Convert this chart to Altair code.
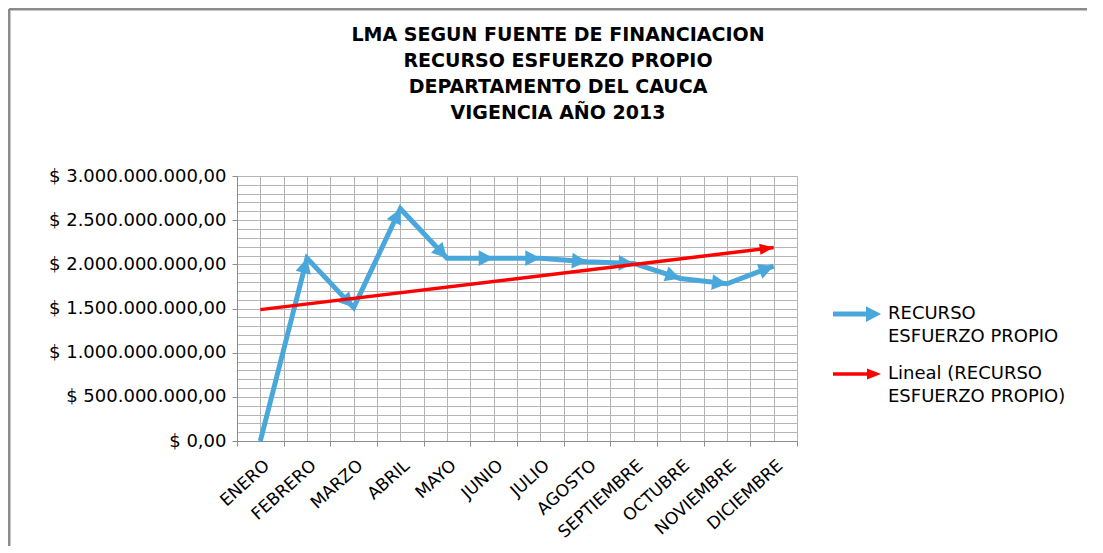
import altair as alt
import pandas as pd

# ---------------- data ----------------
months = ["ENERO", "FEBRERO", "MARZO", "ABRIL", "MAYO", "JUNIO", "JULIO",
          "AGOSTO", "SEPTIEMBRE", "OCTUBRE", "NOVIEMBRE", "DICIEMBRE"]
month_index = [1, 2, 3, 4, 5, 6, 7, 8, 9, 10, 11, 12]
values = [0, 2.07e9, 1.51e9, 2.63e9, 2.07e9, 2.07e9, 2.07e9,
          2.03e9, 2.01e9, 1.84e9, 1.78e9, 1.98e9]

title_lines = ["LMA SEGUN FUENTE DE FINANCIACION", "RECURSO ESFUERZO PROPIO",
               "DEPARTAMENTO DEL CAUCA", "VIGENCIA  AÑO 2013"]
legend_labels = ["RECURSO\nESFUERZO PROPIO", "Lineal (RECURSO\nESFUERZO PROPIO)"]

y_major = [0, 5e8, 1e9, 1.5e9, 2e9, 2.5e9, 3e9]
y_minor = [i * 1e8 for i in range(31)]
x_grid = [0.5 + i * 0.5 for i in range(25)]
x_bounds = [0.5 + i for i in range(13)]

# ---------------- styling ----------------
W, H = 560, 265
YMAX = 3e9
PX_X = W / 12.0
PX_Y = H / YMAX
BLUE = "#4aa7dc"
RED = "#ff0000"
GRID = "#b4b4b4"
AXIS = "#8c8c8c"
FONT = "DejaVu Sans"
ARROW_B = "M0,0L-2,-1.05L-2,1.05Z"
ARROW_R = "M0,0L-2,-0.8L-2,0.8Z"

df = pd.DataFrame({"idx": month_index, "mes": months, "valor": values})

x_scale = alt.Scale(domain=[0.5, 12.5], nice=False, zero=False)
y_scale = alt.Scale(domain=[0, YMAX], nice=False)

money_expr = ("'$ ' + replace(replace(replace(format(datum.value, ',.2f'), "
              "regexp(',', 'g'), '#'), '.', ','), regexp('#', 'g'), '.')")
month_expr = "[" + ",".join("'%s'" % m for m in months) + "][datum.value - 1]"

angle_expr = ("(atan2(-(datum.valor - datum.prev_val) * %r, (datum.idx - datum.prev_idx) * %r)"
              " * 180 / PI + 360) %% 360") % (PX_Y, PX_X)

base = alt.Chart(df)

# blue series line + grid axes
line = base.mark_line(color=BLUE, strokeWidth=5, strokeJoin="miter").encode(
    x=alt.X("idx:Q", scale=x_scale,
            axis=alt.Axis(orient="bottom", values=x_grid, grid=True, gridColor=GRID,
                          gridWidth=1, labels=False, ticks=False, domain=False, title=None)),
    y=alt.Y("valor:Q", scale=y_scale,
            axis=alt.Axis(orient="left", values=y_minor, grid=True, gridColor=GRID,
                          gridWidth=1, labels=False, ticks=False, domain=False, title=None)),
)

# blue arrowheads at each segment end
heads = base.transform_window(
    prev_idx="lag(idx)", prev_val="lag(valor)", sort=[alt.SortField("idx")]
).transform_filter("datum.prev_val != null").transform_calculate(
    ang=angle_expr
).mark_point(shape=ARROW_B, filled=True, size=225, color=BLUE, opacity=1, strokeWidth=0).encode(
    x=alt.X("idx:Q", scale=x_scale,
            axis=alt.Axis(orient="bottom", values=x_bounds, grid=False, labels=False,
                          ticks=True, tickSize=5, tickColor=AXIS, domain=False, title=None)),
    y=alt.Y("valor:Q", scale=y_scale, axis=None),
    angle=alt.Angle("ang:Q", scale=None),
)

# linear trend
trend = base.transform_regression("idx", "valor").mark_line(
    color=RED, strokeWidth=3.5
).encode(
    x=alt.X("idx:Q", scale=x_scale,
            axis=alt.Axis(orient="bottom", values=month_index, labelExpr=month_expr,
                          labelAngle=-42, labelAlign="right", labelBaseline="top",
                          labelPadding=16, labelOffset=1, labelOverlap=False, labelFont=FONT,
                          labelFontSize=17, labelColor="#000", grid=False, ticks=False,
                          domain=True, domainColor=AXIS, domainWidth=1, title=None)),
    y=alt.Y("valor:Q", scale=y_scale,
            axis=alt.Axis(orient="left", values=y_major, labelExpr=money_expr,
                          labelFont=FONT, labelFontSize=18, labelColor="#000",
                          labelPadding=6, labelOverlap=False, grid=False, ticks=True,
                          tickSize=5, tickColor=AXIS, domain=True, domainColor=AXIS,
                          title=None)),
)

trend_head = base.transform_regression("idx", "valor").transform_window(
    prev_idx="lag(idx)", prev_val="lag(valor)", sort=[alt.SortField("idx")]
).transform_filter("datum.prev_val != null").transform_calculate(
    ang=angle_expr
).mark_point(shape=ARROW_R, filled=True, size=196, color=RED, opacity=1, strokeWidth=0).encode(
    x=alt.X("idx:Q", scale=x_scale, axis=None),
    y=alt.Y("valor:Q", scale=y_scale, axis=None),
    angle=alt.Angle("ang:Q", scale=None),
)

one = pd.DataFrame({"k": [0]})

# title (drawn as text so it sits at a fixed place above the plot)
title_layers = [
    alt.Chart(one).mark_text(align="center", baseline="middle", font=FONT, fontSize=19,
                             fontWeight="bold", color="#000").encode(
        x=alt.value(321), y=alt.value(-141 + 26 * i), text=alt.value(t))
    for i, t in enumerate(title_lines)
]

# manual legend
legend_layers = []
for i, (lab, col, lw, shp, sz) in enumerate([(legend_labels[0], BLUE, 5, ARROW_B, 225),
                                              (legend_labels[1], RED, 3.5, ARROW_R, 196)]):
    yy = 138 + i * 60
    legend_layers.append(alt.Chart(one).mark_rule(color=col, strokeWidth=lw).encode(
        x=alt.value(596), x2=alt.value(632), y=alt.value(yy)))
    legend_layers.append(alt.Chart(one).mark_point(
        shape=shp, filled=True, size=sz, color=col, opacity=1, strokeWidth=0).encode(
        x=alt.value(644), y=alt.value(yy), angle=alt.value(0)))
    legend_layers.append(alt.Chart(one).mark_text(
        align="left", baseline="top", font=FONT, fontSize=18, color="#000",
        lineBreak="\n", lineHeight=23).encode(
        x=alt.value(651), y=alt.value(yy - 9), text=alt.value(lab)))

# outer frame (top and left edges)
frame = [
    alt.Chart(one).mark_rule(color="#8c8c8c", strokeWidth=3).encode(
        x=alt.value(-228), x2=alt.value(850), y=alt.value(-167)),
    alt.Chart(one).mark_rule(color="#8c8c8c", strokeWidth=3).encode(
        x=alt.value(-228), y=alt.value(-167), y2=alt.value(370)),
]

chart = alt.layer(line, heads, trend, trend_head, *title_layers, *legend_layers,
                  *frame).resolve_axis(
    x="independent", y="independent"
).properties(
    width=W, height=H,
    padding={"left": 229, "top": 168, "right": 290, "bottom": 112},
    autosize=alt.AutoSizeParams(type="none"),
).configure_view(stroke=None)

chart.save("out.html", embed_options={"renderer": "svg", "actions": False})
